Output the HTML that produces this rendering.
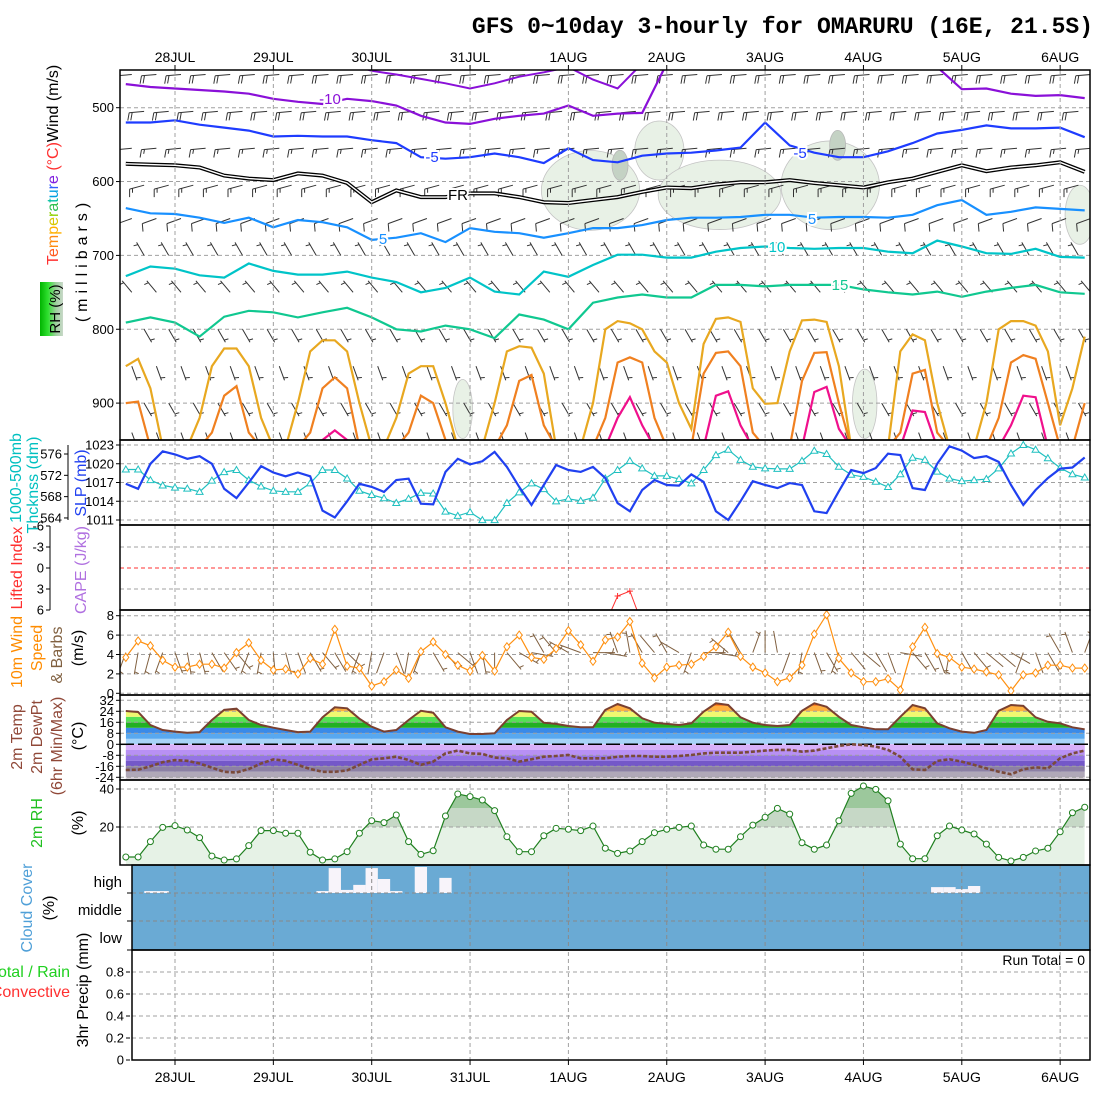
<!DOCTYPE html>
<html><head><meta charset="utf-8">
<style>
html,body{margin:0;padding:0;background:#fff}
svg{display:block}
text{font-family:"Liberation Sans",sans-serif}
.tk{font-size:13px;fill:#000}
</style></head>
<body>
<svg id="chart" width="1100" height="1100" xmlns="http://www.w3.org/2000/svg">
<defs id="defs">
<clipPath id="c1"><rect x="120" y="70" width="970" height="370"/></clipPath>
<clipPath id="c2"><rect x="120" y="440" width="970" height="85"/></clipPath>
<clipPath id="c3"><rect x="120" y="525" width="970" height="85"/></clipPath>
<clipPath id="c4"><rect x="120" y="610" width="970" height="85"/></clipPath>
<clipPath id="c5"><rect x="120" y="695" width="970" height="85"/></clipPath>
<clipPath id="c6"><rect x="120" y="780" width="970" height="85"/></clipPath>
<linearGradient id="rhg" x1="0" x2="1" y1="0" y2="0"><stop offset="0" stop-color="#00b400"/><stop offset="0.35" stop-color="#30e030"/><stop offset="0.7" stop-color="#a0d0a0"/><stop offset="1" stop-color="#c8d8c8"/></linearGradient>
</defs>
<text x="1093" y="33" text-anchor="end" style="font-family:'Liberation Mono',monospace;font-size:23px;font-weight:bold">GFS 0~10day 3-hourly for OMARURU (16E, 21.5S)</text>

<text transform="rotate(-90 58 265)" x="58" y="265" style="font-size:16px"><tspan fill="#ff3030">T</tspan><tspan fill="#ff5a20">e</tspan><tspan fill="#ff8a10">m</tspan><tspan fill="#ffb000">p</tspan><tspan fill="#d8c800">e</tspan><tspan fill="#90d000">r</tspan><tspan fill="#30c050">a</tspan><tspan fill="#00c0a0">t</tspan><tspan fill="#00a0e0">u</tspan><tspan fill="#3060ff">r</tspan><tspan fill="#8020e0">e</tspan><tspan fill="#ff3030"> (°C)</tspan><tspan fill="#000">Wind (m/s)</tspan></text>
<rect x="40" y="282" width="23" height="54" fill="url(#rhg)"/>
<text transform="rotate(-90 60 309)" x="60" y="309" text-anchor="middle" style="font-size:15px">RH (%)</text>
<text transform="rotate(-90 87 260)" x="87" y="260" text-anchor="middle" style="font-size:16px;letter-spacing:5px">(millibars)</text>

<text transform="rotate(-90 21 478)" x="21" y="478" text-anchor="middle" fill="#00c0c0" style="font-size:16px">1000-500mb</text>
<text transform="rotate(-90 38 485)" x="38" y="485" text-anchor="middle" fill="#00c0c0" style="font-size:16px">Thcknss (dm)</text>
<text transform="rotate(-90 86 483)" x="86" y="483" text-anchor="middle" fill="#2040f0" style="font-size:16px">SLP (mb)</text>
<text transform="rotate(-90 22 568)" x="22" y="568" text-anchor="middle" fill="#ff3030" style="font-size:16px">Lifted Index</text>
<text transform="rotate(-90 86 570)" x="86" y="570" text-anchor="middle" fill="#b070e0" style="font-size:16px">CAPE (J/kg)</text>
<text transform="rotate(-90 22 652)" x="22" y="652" text-anchor="middle" fill="#ff8c00" style="font-size:16px">10m Wind</text>
<text transform="rotate(-90 42 648)" x="42" y="648" text-anchor="middle" fill="#ff8c00" style="font-size:16px">Speed</text>
<text transform="rotate(-90 62 655)" x="62" y="655" text-anchor="middle" fill="#806040" style="font-size:16px">&amp; Barbs</text>
<text transform="rotate(-90 83 648)" x="83" y="648" text-anchor="middle" style="font-size:16px">(m/s)</text>
<text transform="rotate(-90 22 737)" x="22" y="737" text-anchor="middle" fill="#904838" style="font-size:16px">2m Temp</text>
<text transform="rotate(-90 42 737)" x="42" y="737" text-anchor="middle" fill="#904838" style="font-size:16px">2m DewPt</text>
<text transform="rotate(-90 62 746)" x="62" y="746" text-anchor="middle" fill="#904838" style="font-size:16px">(6hr Min/Max)</text>
<text transform="rotate(-90 83 736)" x="83" y="736" text-anchor="middle" style="font-size:16px">(°C)</text>
<text transform="rotate(-90 42 823)" x="42" y="823" text-anchor="middle" fill="#20c020" style="font-size:16px">2m RH</text>
<text transform="rotate(-90 83 823)" x="83" y="823" text-anchor="middle" style="font-size:16px">(%)</text>
<text transform="rotate(-90 32 908)" x="32" y="908" text-anchor="middle" fill="#50a0d8" style="font-size:16px">Cloud Cover</text>
<text transform="rotate(-90 54 908)" x="54" y="908" text-anchor="middle" style="font-size:16px">(%)</text>
<text x="122" y="887" text-anchor="end" style="font-size:15px">high</text>
<text x="122" y="915" text-anchor="end" style="font-size:15px">middle</text>
<text x="122" y="943" text-anchor="end" style="font-size:15px">low</text>
<text x="70" y="977" text-anchor="end" fill="#20d020" style="font-size:16px">Total / Rain</text>
<text x="70" y="997" text-anchor="end" fill="#ff3030" style="font-size:16px">Convective</text>
<text transform="rotate(-90 88 990)" x="88" y="990" text-anchor="middle" style="font-size:16px">3hr Precip (mm)</text>
<text x="1085" y="965" text-anchor="end" style="font-size:14px">Run Total = 0</text>
</svg>
<script>
// ---------- data ----------
const dayLabels = ['28JUL','29JUL','30JUL','31JUL','1AUG','2AUG','3AUG','4AUG','5AUG','6AUG'];
const slp = [1016.8,1016,1020,1022,1021.5,1020.8,1021.2,1020,1016,1014.5,1017,1019.6,1018.6,1018,1018.6,1018,1012.5,1011.4,1014,1016.8,1016.3,1015.5,1017.4,
1017.6,1013.6,1013.5,1018.7,1020.8,1019.9,1020.4,1021.9,1019.5,1016.3,1013.4,1016.6,1019.8,1019,1018.7,1019.5,1017.7,1013.7,1012.4,1015.8,1017.4,1016.6,1016.5,1018.3,1017.1,1012.4,1011,1014,1017.2,1016.6,1016.1,1016.9,1016.6,1012.4,1012.1,1015.6,1019,1018.5,1019.3,1021.6,1021.4,1016.1,1015.8,1020,1022.8,1022.1,1020.9,1021.2,1020.3,1016.6,1013.4,1015.8,1017.7,1019.2,1019.4,1021];
const thick = [573.1,573.1,571.1,570.1,569.7,569.5,568.9,571,572.6,573,571.1,569.9,569.1,568.9,568.9,570.5,573,573,571.4,569.1,568.3,
567.7,566.8,567.6,568.7,568.6,565.2,564.4,565.1,563.6,563.6,566.8,568.8,570.5,569.4,567.1,567.6,567.2,567.8,571.4,573,574.7,573.3,571.9,571.9,571.3,570.5,573,575.8,576.8,574.9,573.6,573.3,573.2,573.2,574.7,576.6,576,573.6,572.1,571.7,570.8,569.8,572.2,575.3,574.9,572.7,571.4,570.9,571.1,571.3,573.3,576.1,577.7,576.8,575.2,573.4,572.2,571.6];
const liftedIndex = [9,9,9,9,9,9,9,9,9,9,9,9,9,9,9,9,9,9,9,9,9,9,9,9,9,9,9,9,9,9,9,9,9,9,9,9,9,9,9,8,4.0,3.3,8,9,9,9,9,9,9,9,9,9,9,9,9,9,9,9,9,9,9,9,9,9,9,9,9,9,9,9,9,9,9,9,9,9,9,9,9];
const windSpeed = [3.7,5.4,4.9,3.4,2.7,2.7,3.0,3.0,2.6,4.2,5.2,3.4,2.4,2.5,2.0,3.6,3.0,6.6,2.8,2.6,0.75,
1.2,2.4,1.55,4.3,5.3,4.0,2.9,2.3,3.9,2.3,4.8,6.0,3.7,3.5,4.6,6.45,5.0,3.3,5.5,5.8,7.4,3.1,1.6,2.7,2.9,3.0,3.8,4.8,6.3,3.8,2.7,2.1,1.2,1.6,2.9,6.1,8.1,3.6,2.1,1.2,1.2,1.5,0.35,4.8,6.8,4.1,3.7,2.7,2.5,2.2,1.9,0.25,1.9,2.1,2.9,2.9,2.6,2.6];
const windDir10 = [200,190,195,200,160,170,165,150,145,140,200,190,175,165,160,150,140,150,135,200,190,200,160,190,200,150,140,130,160,170,180,140,120,100,330,320,300,290,90,100,340,350,330,320,330,300,200,90,100,310,330,20,0,350,200,190,160,150,200,140,130,150,160,100,140,150,160,190,150,140,130,130,120,200,160,150,330,340,20];
const temp2m = [24.2,23.5,14,10.4,9.2,8.4,8.9,17.7,25,25.9,17.7,14,12.1,10.4,8.9,9.2,19.6,26.9,26.2,18.6,12.8,
9.2,10.4,17.7,24.4,23,12.4,9.2,7.5,7.5,8,17.7,24.2,23.7,15.7,14.8,13.3,12.4,12.4,25,29.3,26.2,18.9,15.7,14.8,14,15.3,23.7,29.8,28.6,19.6,15.7,14,13.3,14,24.4,29.8,27.3,20,14,12.4,10.9,10.9,20,28.6,26.2,15.3,11.6,9.2,8.4,10.4,24.4,28.6,27.9,19.6,16.4,15.3,12.4,10.9];
const dewpt2m = [-18.7,-18.5,-16,-13,-11.5,-12,-14,-17,-20,-20.5,-18,-14,-11,-12,-15,-18,-20,-20,-19,-15,-11,
-10.2,-9,-11.4,-15,-12.6,-6.6,-4.6,-6.6,-7,-9.7,-10.2,-12.6,-10.9,-9,-8.5,-7.8,-10.2,-10.2,-10.2,-9,-8.5,-8.5,-9,-9,-8.5,-7.8,-6.6,-6.1,-6.1,-6.1,-5.4,-4.6,-4.1,-4.1,-5.4,-4.6,-2.9,-1.2,0,-0.5,-1.7,-4.1,-9,-18.2,-18.7,-12.1,-10.9,-12.6,-15,-17.5,-19.9,-21.8,-18.2,-16.7,-17.5,-10.2,-6.6,-4.6];
const rh2m = [4.2,4.2,12.3,19.8,20.7,18.4,14.4,4.7,2.6,3.2,10.2,18.1,18.1,16.7,16.7,6.7,2.6,3.2,7,16.7,23.3,
22.3,26.3,12.3,5.6,7.5,25.8,37.4,36,34.2,28.6,14.9,7,7,15.4,19.3,18.8,18.1,20.5,8.8,6.1,7.4,12.3,17,18.8,19.8,20.5,10.5,8.3,8.3,14.9,21,25.1,29.8,26.8,11.7,8.3,10.5,23.3,37.7,41.6,39.8,33.8,11,3.3,3.3,15.4,20.5,18.4,16.3,11,4,2.1,4,7.4,8.8,17.5,27.5,30.4];
const highCloud = [0,0,7,7,0,0,0,0,0,0,0,0,0,0,0,0,7,89,11,29,89,50,7,0,93,0,54,0,0,0,0,0,0,0,0,0,0,0,0,0,0,0,0,0,0,0,0,0,0,0,0,0,0,0,0,0,0,0,0,0,0,0,0,0,0,0,21,21,14,25,0,0,0,0,0,0,0,0,0];
const precip = new Array(79).fill(0);
// upper-air isotherm pressure levels (6-hourly)
const isoM15 = [440,440,440,440,440,440,440,440,440,440,450,455,461,467,474,467,458,452,445,462,474,440,440,440,440,440,440,440,440,440,440,440,440,440,440,440,440,440,440,440];
const isoM10 = [468,472,474,476,478,481,488,492,495,488,491,497,511,520,522,515,511,508,497,511,508,507,440,440,440,440,440,440,440,440,440,440,440,445,475,474,481,484,483,487];
const isoM5 = [520,520,517,523,527,531,539,538,539,539,544,548,567,569,567,562,567,575,555,571,574,565,562,561,558,554,520,551,561,567,567,559,548,535,530,524,528,528,527,540];
const isoFR = [576,577,578,581,592,596,598,589,592,602,628,612,621,621,616,616,621,628,629,625,621,614,608,609,604,601,601,598,602,605,608,601,596,587,578,586,581,578,574,587];
const isoP5 = [636,643,644,649,656,649,662,652,655,662,679,676,670,682,663,668,670,676,670,663,663,659,652,649,649,648,645,645,649,648,648,649,645,632,625,645,641,635,637,639];
const isoP10 = [728,715,718,727,730,711,721,726,726,722,730,736,750,744,730,749,753,722,729,713,699,699,703,703,695,690,688,690,691,690,690,695,697,680,688,697,698,691,702,703];
const isoP15 = [791,784,791,810,783,775,777,784,777,771,784,800,803,795,800,812,780,787,800,764,757,753,757,757,740,740,742,740,740,740,746,750,753,749,756,749,744,740,750,752];
// surface-based warm domes (3-hourly)
const isoP20 = [850,840,880,960,960,960,920,850,826,826,850,920,960,960,900,830,815,815,830,900,960,960,920,860,850,850,900,960,960,960,900,830,823,825,860,960,960,960,900,800,789,792,800,830,845,900,935,820,786,784,790,880,901,900,830,788,787,790,850,960,960,960,960,830,807,815,900,960,960,960,900,800,789,789,795,830,930,880,810];
const isoP25 = [900,898,960,960,960,960,960,940,890,877,940,960,960,960,960,940,880,865,880,960,960,960,960,940,890,900,950,960,960,960,960,930,870,862,930,960,960,960,960,920,845,838,845,920,960,960,960,860,832,830,850,940,960,960,960,870,832,831,900,960,960,960,960,940,860,855,940,960,960,960,960,920,845,835,840,900,960,960,900];
const isoP30 = [960,960,960,960,960,960,960,960,960,960,960,960,960,960,960,960,950,937,950,960,960,960,960,960,960,960,960,960,960,960,960,960,960,960,960,960,960,960,960,960,920,892,930,960,960,960,960,960,890,884,930,960,960,960,960,960,885,878,935,960,960,960,960,960,910,912,960,960,960,960,960,960,930,890,892,960,960,960,960];
// humid (RH) shaded regions
const blobT = [37.8,43.4,48.3,57.3,77.6,27.4,60.1];
const blobP = [612,558,618,605,645,908,901];
const blobWT = [4,2,5,4,1.2,0.8,1];
const blobHP = [54,40,47,60,40,40,47];
const darkT = [40.2,57.9];
const darkP = [578,551];
// upper barbs
const barbLevels = [455,505,555,605,650,700,750,800,850,900,940];
const barbDirs = [265,265,265,255,250,330,320,150,160,150,160];
const barbSpeeds = [22,22,18,14,12,7,6,5,5,5,4];
const slpTicks = [1011,1014,1017,1020,1023];
const thickTicks = [564,568,572,576];
const presTicks = [500,600,700,800,900];
const liTicks = [-6,-3,0,3,6];
const wsTicks = [0,2,4,6,8];
const tTicks = [32,24,16,8,0,-8,-16,-24];
const rhTicks = [20,40];
const prTicks = [0,0.2,0.4,0.6,0.8];

// ---------- scales ----------
const NS = 'http://www.w3.org/2000/svg';
const svg = document.getElementById('chart');
const defs = document.getElementById('defs');
const DX = 98.35/8, X0 = 175 - 4*DX;
const xT = i => X0 + i*DX;
const xDay = d => 175 + d*98.35;
const yP = p => 107.7 + (p-500)*0.7385;
const ySLP = v => 445 + (1023-v)*6.25;
const yTh = v => 454 + (576-v)*5.33;
const yLI = v => 568 + v*7;
const yWS = v => 693.3 - v*9.7;
const yT = v => 744.3 - v*1.375;
const yRH = v => 865 - v*1.9;
const yPr = v => 1060 - v*110;
const L = 120, R = 1090;

function mk(tag, attrs, parent){
  const e = document.createElementNS(NS, tag);
  for (const k in attrs) e.setAttribute(k, attrs[k]);
  (parent || svg).appendChild(e);
  return e;
}
function grp(clip){
  const g = mk('g', clip ? {'clip-path':'url(#'+clip+')'} : {});
  return g;
}
function linePath(xs, ys){
  let d = '';
  for (let i=0;i<xs.length;i++) d += (i?'L':'M') + xs[i].toFixed(1) + ',' + ys[i].toFixed(1);
  return d;
}
function hgrid(g, y, x1, x2, color, dash){
  const e = mk('line', {x1:x1, x2:x2, y1:y, y2:y, stroke:color||'#a0a0a0', 'stroke-width':1, 'stroke-dasharray':dash||'4,3'}, g);
  
  
}
function tickLabel(x, y, txt, anchor){
  const t = mk('text', {x:x, y:y+4.5, 'text-anchor':anchor||'end', class:'tk'});
  t.textContent = txt;
  
  
  const k = mk('line', {x1:x+2, x2:x+6, y1:y, y2:y, stroke:'#000'});
  
  
}
function barb(g, x, y, dir, spd, len, color, name){
  const r = dir*Math.PI/180, ux = Math.sin(r), uy = -Math.cos(r);
  const ex = x+ux*len, ey = y+uy*len;
  const fx = ux*0.259 + uy*0.966, fy = -0.966*ux + 0.259*uy;
  let d = 'M'+x.toFixed(1)+','+y.toFixed(1)+'L'+ex.toFixed(1)+','+ey.toFixed(1);
  let s = spd, pos = 0;
  while (s >= 9.5){ const bx=ex-ux*pos, by=ey-uy*pos; d += 'M'+bx.toFixed(1)+','+by.toFixed(1)+'l'+(fx*8).toFixed(1)+','+(fy*8).toFixed(1); s-=10; pos+=3; }
  if (s >= 2.5){ if(pos===0) pos=2.5; const bx=ex-ux*pos, by=ey-uy*pos; d += 'M'+bx.toFixed(1)+','+by.toFixed(1)+'l'+(fx*4.5).toFixed(1)+','+(fy*4.5).toFixed(1); }
  const e = mk('path', {d:d, stroke:color, 'stroke-width':1, fill:'none'}, g);
  
  
}
const N = slp.length;
const idx = Array.from({length:N}, (_, i) => i);
const idx6 = Array.from({length:40}, (_, k) => 2*k);

// ---------- panel 1: upper air ----------
const g1 = grp('c1');

blobT.forEach((t, i) => {
  const cy = yP(blobP[i]), ry = blobHP[i]*0.7385, rx = blobWT[i]*DX;
  const e = mk('ellipse', {cx:xT(t), cy:cy, rx:rx, ry:ry, fill:'#e8f1e6', stroke:'#c4c4c4', 'stroke-width':0.8}, g1);
  
  
});
darkT.forEach((t, i) => {
  const e = mk('ellipse', {cx:xT(t), cy:yP(darkP[i]), rx:8, ry:15, fill:'#c4d2c4', stroke:'#b8b8b8', 'stroke-width':0.8}, g1);
  
  
});
presTicks.forEach(p => hgrid(g1, yP(p), L, R));
dayLabels.forEach((d, i) => {
  const e = mk('line', {x1:xDay(i), x2:xDay(i), y1:70, y2:1060, stroke:'#a0a0a0', 'stroke-dasharray':'4,3'}, svg);
  
  
});
barbLevels.forEach((p, li) => {
  for (let i = (li%2); i < N; i += 2) {
    barb(g1, xT(i)+6, yP(p), barbDirs[li], barbSpeeds[li], 15, '#333', 'upper-wind-barb');
  }
});
const isoSeries = [
  [isoM15, '#8a10d8', 2, 'isotherm-minus15'],
  [isoM10, '#8a10d8', 2.2, 'isotherm-minus10'],
  [isoM5, '#1e3cff', 2.2, 'isotherm-minus5'],
  [isoP5, '#1890ff', 2.2, 'isotherm-plus5'],
  [isoP10, '#00c4c8', 2.2, 'isotherm-plus10'],
  [isoP15, '#10c890', 2.2, 'isotherm-plus15']
];
isoSeries.forEach(s => {
  const e = mk('path', {d:linePath(idx6.map(xT), s[0].map(yP)), stroke:s[1], 'stroke-width':s[2], fill:'none'}, g1);
  
  
});
{
  const d = linePath(idx6.map(xT), isoFR.map(yP));
  const a = mk('path', {d:d, stroke:'#000', 'stroke-width':4, fill:'none'}, g1);
  
  
  const b = mk('path', {d:d, stroke:'#fff', 'stroke-width':1.4, fill:'none'}, g1);
  
  
}
[[isoP20,'#e8a820','isotherm-plus20'],[isoP25,'#f08020','isotherm-plus25'],[isoP30,'#f0108c','isotherm-plus30']].forEach(s => {
  const e = mk('path', {d:linePath(idx.map(xT), s[0].map(yP)), stroke:s[1], 'stroke-width':2.2, fill:'none'}, g1);
  
  
});
[[330,104,'-10','#8a10d8'],[432,162,'-5','#1e3cff'],[800,158,'-5','#1e3cff'],[458,200,'FR','#000'],[383,244,'5','#1890ff'],[812,224,'5','#1890ff'],[777,252,'10','#00c4c8'],[840,290,'15','#10c890']].forEach(l => {
  const t = mk('text', {x:l[0], y:l[1], 'text-anchor':'middle', fill:l[3], stroke:'#fff', 'stroke-width':4, 'paint-order':'stroke', style:'font-size:15px'}, g1);
  t.textContent = l[2];
  
  
});
presTicks.forEach(p => tickLabel(114, yP(p), String(p)));

// ---------- panel 2: SLP & thickness ----------
const g2 = grp('c2');

slpTicks.forEach(v => hgrid(g2, ySLP(v), L, R));
{
  const e = mk('path', {d:linePath(idx.map(xT), thick.map(yTh)), stroke:'#20c0c0', 'stroke-width':1.2, fill:'none'}, g2);
  
  
  thick.forEach((v, i) => {
    const x = xT(i), y = yTh(v);
    const m = mk('path', {d:'M'+x+','+(y-3.5)+'l3.5,6h-7z', stroke:'#20c0c0', fill:'#fff', 'stroke-width':1}, g2);
    
    
  });
  const s = mk('path', {d:linePath(idx.map(xT), slp.map(ySLP)), stroke:'#2040f0', 'stroke-width':2.2, fill:'none'}, g2);
  
  
}
slpTicks.forEach(v => tickLabel(114, ySLP(v), String(v)));
thickTicks.forEach(v => tickLabel(62, yTh(v), String(v)));
{
  const a = mk('line', {x1:68, x2:68, y1:445, y2:520, stroke:'#000'});
  
  
}

// ---------- panel 3: CAPE / LI ----------
const g3 = grp('c3');

[-3,3].forEach(v => hgrid(g3, yLI(v), L, R));
hgrid(g3, yLI(0), L, R, '#ff3030', '4,3');
{
  const e = mk('path', {d:linePath(idx.map(xT), liftedIndex.map(yLI)), stroke:'#ff3030', 'stroke-width':1, fill:'none'}, g3);
  
  
  liftedIndex.forEach((v, i) => {
    if (v > 6) return;
    const m = mk('path', {d:'M'+(xT(i)-3)+','+yLI(v)+'h6M'+xT(i)+','+(yLI(v)-3)+'v6', stroke:'#ff3030'}, g3);
    
    
  });
}
liTicks.forEach(v => tickLabel(44, yLI(v), String(v)));
{
  const a = mk('line', {x1:50, x2:50, y1:526, y2:610, stroke:'#000'});
  
  
}

// ---------- panel 4: 10m wind ----------
const g4 = grp('c4');

wsTicks.forEach(v => hgrid(g4, yWS(v), L, R));
windDir10.forEach((d, i) => barb(g4, xT(i), yWS(4.2), d, windSpeed[i], 22, '#806040', 'wind10-barb'));
{
  const e = mk('path', {d:linePath(idx.map(xT), windSpeed.map(yWS)), stroke:'#ff9010', 'stroke-width':1.2, fill:'none'}, g4);
  
  
  windSpeed.forEach((v, i) => {
    const x = xT(i), y = yWS(v);
    const m = mk('path', {d:'M'+x+','+(y-4)+'l3,4l-3,4l-3,-4z', stroke:'#ff9010', fill:'#fff'}, g4);
    
    
  });
}
wsTicks.forEach(v => tickLabel(114, yWS(v), String(v)));

// ---------- panel 5: temperature ----------
const g5 = grp('c5');

{
  const cp = mk('clipPath', {id:'tfill'}, defs);
  const d = 'M'+xT(0)+','+yT(0)+linePath(idx.map(xT), temp2m.map(yT)).replace('M','L')+'L'+xT(N-1)+','+yT(0)+'Z';
  mk('path', {d:d}, cp);
  const gb = mk('g', {'clip-path':'url(#tfill)'}, g5);
  
  const bandsUp = [[0,4,'#a8d4f8'],[4,8,'#58a8f0'],[8,12,'#3a8ae8'],[12,16,'#22b022'],[16,20,'#55e055'],[20,24,'#f0f870'],[24,28,'#ffb040'],[28,36,'#ff6a00']];
  bandsUp.forEach(b => {
    const r = mk('rect', {x:xT(0), width:xT(N-1)-xT(0), y:yT(b[1]), height:yT(b[0])-yT(b[1]), fill:b[2]}, gb);
    
    
  });
  const bandsDn = [[0,-4,'#d8b0f8'],[-4,-8,'#b890f4'],[-8,-12,'#9474e4'],[-12,-16,'#7458c8'],[-16,-20,'#8c80a4'],[-20,-24,'#b0a8b8'],[-24,-30,'#d8d0d8']];
  bandsDn.forEach(b => {
    const r = mk('rect', {x:xT(0), width:xT(N-1)-xT(0), y:yT(b[0]), height:yT(b[1])-yT(b[0]), fill:b[2]}, g5);
    
    
  });
}
tTicks.forEach(v => { if (v !== 0) hgrid(g5, yT(v), L, R); });
{
  const z = mk('line', {x1:L, x2:R, y1:yT(0), y2:yT(0), stroke:'#000', 'stroke-width':1.5, 'stroke-dasharray':'14,4'}, g5);
  
  
  const t = mk('path', {d:linePath(idx.map(xT), temp2m.map(yT)), stroke:'#7a4030', 'stroke-width':2, fill:'none'}, g5);
  
  
  const dp = mk('path', {d:linePath(idx.map(xT), dewpt2m.map(yT)), stroke:'#7a4a3a', 'stroke-width':2.6, fill:'none', 'stroke-dasharray':'4,2'}, g5);
  
  
}
tTicks.forEach(v => tickLabel(114, yT(v), String(v)));

// ---------- panel 6: RH ----------
const g6 = grp('c6');

{
  const cp = mk('clipPath', {id:'rhfill'}, defs);
  const d = 'M'+xT(0)+','+yRH(0)+linePath(idx.map(xT), rh2m.map(yRH)).replace('M','L')+'L'+xT(N-1)+','+yRH(0)+'Z';
  mk('path', {d:d}, cp);
  const gb = mk('g', {'clip-path':'url(#rhfill)'}, g6);
  
  [[0,20,'#e6f2e6'],[20,30,'#c6d8c6'],[30,60,'#9cc89c']].forEach(b => {
    const r = mk('rect', {x:xT(0), width:xT(N-1)-xT(0), y:yRH(b[1]), height:yRH(b[0])-yRH(b[1]), fill:b[2]}, gb);
    
    
  });
}
rhTicks.forEach(v => hgrid(g6, yRH(v), L, R));
{
  const e = mk('path', {d:linePath(idx.map(xT), rh2m.map(yRH)), stroke:'#208020', 'stroke-width':1.2, fill:'none'}, g6);
  
  
  rh2m.forEach((v, i) => {
    const c = mk('circle', {cx:xT(i), cy:yRH(v), r:3, fill:'#fff', stroke:'#208020'}, g6);
    
    
  });
}
rhTicks.forEach(v => tickLabel(114, yRH(v), String(v)));

// ---------- panel 7: cloud ----------
{
  const bg = mk('rect', {x:132, y:865, width:958, height:85, fill:'#6aaad4'});
  
  
  highCloud.forEach((v, i) => {
    if (!v) return;
    const h = v/100*28;
    const r = mk('rect', {x:xT(i)-DX/2, y:893-h, width:DX, height:h, fill:'#f8f4fa'});
    
    
  });
  [893,921].forEach(y => hgrid(svg, y, 132, R, '#888'));
  [893,921,950].forEach(y => {
    const k = mk('line', {x1:127, x2:132, y1:y, y2:y, stroke:'#000'});
    
    
  });
}
dayLabels.forEach((d, i) => {
  const e = mk('line', {x1:xDay(i), x2:xDay(i), y1:865, y2:950, stroke:'#8a8a8a', 'stroke-dasharray':'4,3'});
  
  
});

// ---------- panel 8: precip ----------
prTicks.forEach(v => { if (v > 0) hgrid(svg, yPr(v), 132, R); });
precip.forEach((v, i) => {
  if (!v) return;
  const r = mk('rect', {x:xT(i)-DX/2, y:yPr(v), width:DX, height:yPr(0)-yPr(v), fill:'#20d020'});
  
  
});
prTicks.forEach(v => tickLabel(124, yPr(v), String(v)));

// ---------- frames & date labels ----------
[[120,70,970,370,'upper-air-frame'],[120,440,970,85,'slp-frame'],[120,525,970,85,'cape-frame'],[120,610,970,85,'wind10-frame'],[120,695,970,85,'temp-frame'],[120,780,970,85,'rh-frame'],[132,865,958,85,'cloud-frame'],[132,950,958,110,'precip-frame']].forEach(f => {
  const r = mk('rect', {x:f[0], y:f[1], width:f[2], height:f[3], fill:'none', stroke:'#000', 'stroke-width':1.5});
  
  
});
dayLabels.forEach((d, i) => {
  const t1 = mk('text', {x:xDay(i), y:62, 'text-anchor':'middle', style:'font-size:14px'});
  t1.textContent = d;
  
  
  const t2 = mk('text', {x:xDay(i), y:1082, 'text-anchor':'middle', style:'font-size:14px'});
  t2.textContent = d;
  
  
  const k1 = mk('line', {x1:xDay(i), x2:xDay(i), y1:65, y2:70, stroke:'#000'});
  
  
  const k2 = mk('line', {x1:xDay(i), x2:xDay(i), y1:1060, y2:1065, stroke:'#000'});
  
  
});
</script>
</body></html>
